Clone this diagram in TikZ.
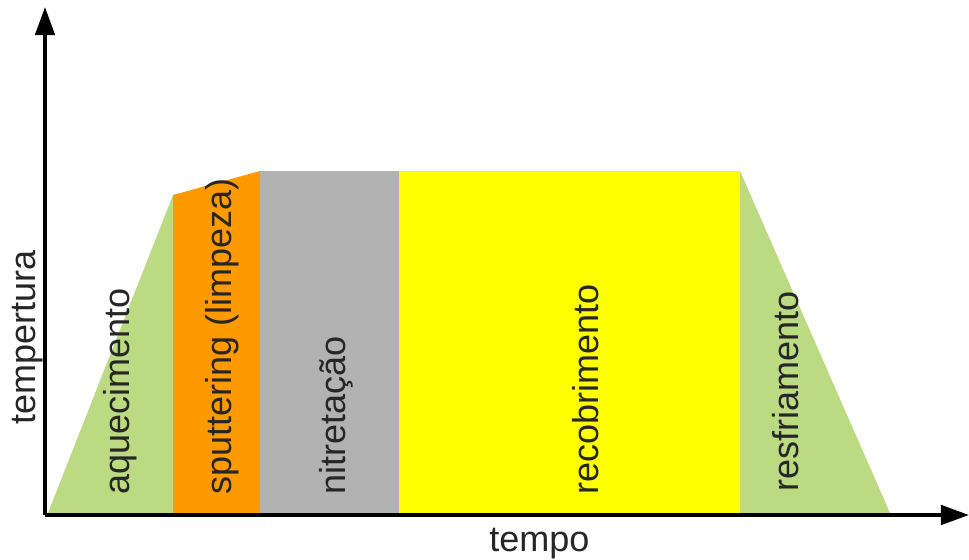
\documentclass[tikz,border=0pt]{standalone}
\usepackage{fontspec}
\setmainfont{Liberation Sans}
\usetikzlibrary{arrows.meta}

\definecolor{verde}{HTML}{BBDA82}
\definecolor{laranja}{HTML}{FF9900}
\definecolor{cinza}{HTML}{B2B2B2}
\definecolor{amarelo}{HTML}{FFFF00}

\begin{document}
\begin{tikzpicture}[x=0.02cm, y=0.02cm,
    etapa/.style={rotate=90, anchor=west, inner sep=0pt, text=black!85,
                  font=\fontsize{20.5}{24}\selectfont},
    eixo/.style={line width=2.3pt, -{Triangle[width=11pt,length=16pt]}}]
    \useasboundingbox (0,0) rectangle (969,560);

    % Definieer de hoekpunten van het temperatuurprofiel
    \coordinate (O) at (45,45);      % oorsprong
    \coordinate (A) at (48,47);      % begin aquecimento
    \coordinate (B) at (173,365);    % einde aquecimento
    \coordinate (C) at (260,389);    % einde sputtering
    \coordinate (D) at (399,389);    % einde nitretação
    \coordinate (E) at (740,389);    % einde recobrimento
    \coordinate (F) at (890,47);     % einde resfriamento

    % Teken de gekleurde etappes
    \fill[verde] (A) -- (B) -- (B |- A) -- cycle;
    \fill[laranja] (B |- A) -- (B) -- (C) -- (C |- A) -- cycle;
    \fill[cinza] (C |- A) -- (C) -- (D) -- (D |- A) -- cycle;
    \fill[amarelo] (D |- A) -- (D) -- (E) -- (E |- A) -- cycle;
    \fill[verde] (E |- A) -- (E) -- (F) -- cycle;

    % Teken de labels van de etappes
    \node[etapa] (aq) at (120,65) {aquecimento};
    \node[etapa] (sp) at (222,65) {sputtering (limpeza)};
    \node[etapa] (ni) at (336,65) {nitretação};
    \node[etapa] (re) at (586,65) {recobrimento};
    \node[etapa] (rs) at (786,68) {resfriamento};

    % Teken het assenstelsel
    \draw[eixo] (O) -- (969,45) node[pos=0.535, below=3pt, font=\fontsize{20.5}{24}\selectfont, text=black!85] (tempo) {tempo};
    \draw[eixo] (O) -- (45,553);
    \node[etapa] (temp) at (28,135) {tempertura};

\end{tikzpicture}
\end{document}
